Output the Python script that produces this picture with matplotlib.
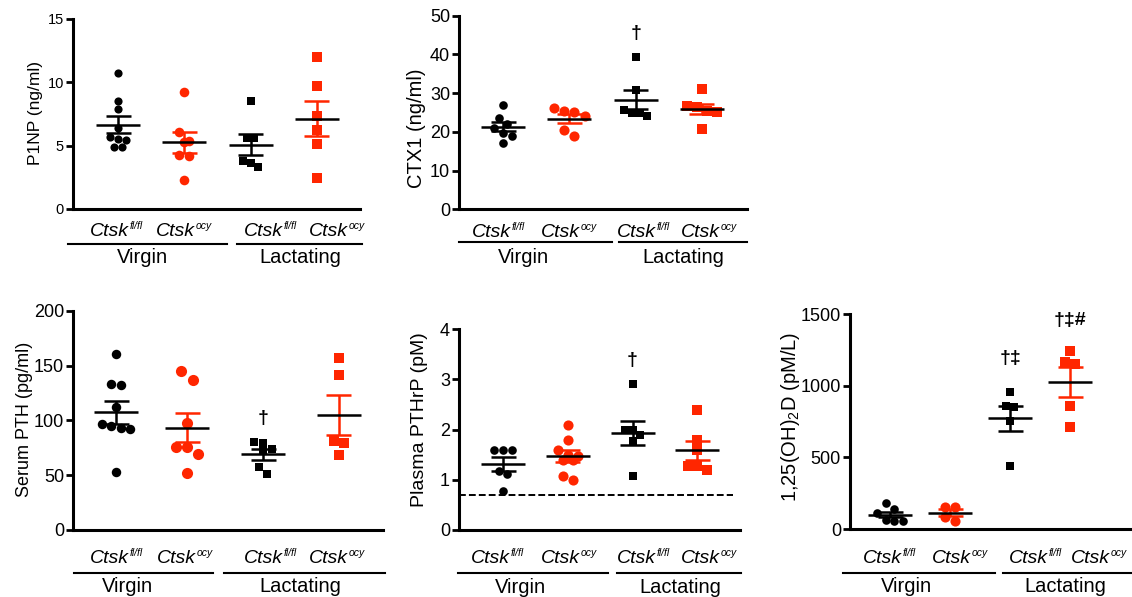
import numpy as np
import matplotlib
matplotlib.use('Agg')
import matplotlib.pyplot as plt
from matplotlib.lines import Line2D

plt.rcParams['font.family'] = ['Liberation Sans', 'DejaVu Sans']
plt.rcParams['mathtext.fontset'] = 'custom'
plt.rcParams['mathtext.rm'] = 'Liberation Sans'
plt.rcParams['mathtext.it'] = 'Liberation Sans:italic'
plt.rcParams['mathtext.bf'] = 'Liberation Sans:bold'

# ---------------- data ----------------
genotype_base = 'Ctsk'
genotype_sup = ['fl/fl', 'ocy', 'fl/fl', 'ocy']
state_labels = ['Virgin', 'Lactating']

p1np_virgin_flfl = [10.7, 8.55, 7.9, 6.4, 5.7, 5.5, 5.45, 4.9, 4.9]
p1np_virgin_ocy = [9.2, 6.1, 5.4, 5.3, 4.25, 4.2, 2.3]
p1np_lact_flfl = [8.55, 5.6, 5.6, 3.8, 3.6, 3.35]
p1np_lact_ocy = [12.0, 9.7, 7.35, 6.2, 5.15, 2.45]

ctx1_virgin_flfl = [27.0, 23.5, 22.0, 21.1, 19.8, 19.0, 17.0]
ctx1_virgin_ocy = [26.2, 25.4, 25.2, 24.1, 20.5, 18.9]
ctx1_lact_flfl = [39.4, 30.8, 25.7, 25.0, 24.8, 24.1]
ctx1_lact_ocy = [31.0, 26.7, 26.3, 25.4, 25.2, 20.7]

pth_virgin_flfl = [160.5, 133, 132, 112, 97, 95, 93, 92, 53]
pth_virgin_ocy = [145, 137, 98, 76, 76, 69, 52]
pth_lact_flfl = [80.5, 79.5, 73.5, 72, 57.5, 51]
pth_lact_ocy = [156.5, 141.5, 81, 79, 68]

pthrp_virgin_flfl = [1.6, 1.6, 1.6, 1.18, 1.12, 0.78]
pthrp_virgin_ocy = [2.1, 1.79, 1.59, 1.49, 1.47, 1.39, 1.39, 1.07, 0.99]
pthrp_lact_flfl = [2.9, 1.99, 1.99, 1.89, 1.78, 1.08]
pthrp_lact_ocy = [2.4, 1.79, 1.59, 1.28, 1.28, 1.2]
pthrp_detection_limit = 0.7

vitd_virgin_flfl = [180, 138, 110, 63, 58, 58]
vitd_virgin_ocy = [156, 152, 84, 58]
vitd_lact_flfl = [955, 860, 855, 755, 442]
vitd_lact_ocy = [1244, 1165, 1153, 862, 711]

# ---------------- style ----------------
W, H = 1132, 597
BLACK = '#000000'
RED = '#FF2600'
colors = [BLACK, RED, BLACK, RED]
markers = ['o', 'o', 's', 's']
msizes = {('o', BLACK): 6.2, ('o', RED): 7.3, ('s', BLACK): 5.6, ('s', RED): 7.0}

fig = plt.figure(figsize=(W / 100, H / 100), dpi=100)
renderer = fig.canvas.get_renderer()


def px_axes(l, r, t, b):
    return fig.add_axes([l / W, 1 - b / H, (r - l) / W, (b - t) / H])


def ftext(xp, yp, s, **kw):
    return fig.text(xp / W, 1 - yp / H, s, **kw)


def fline(x0, x1, yp):
    fig.add_artist(Line2D([x0 / W, x1 / W], [1 - yp / H] * 2,
                          transform=fig.transFigure, color='k', lw=1.5))


def genotype_label(xp, yp, sup):
    t1 = ftext(0, yp, genotype_base, ha='left', va='baseline', fontsize=14, style='italic')
    t2 = ftext(0, yp - 7, sup, ha='left', va='baseline', fontsize=7.5, style='italic')
    w1 = t1.get_window_extent(renderer).width
    w2 = t2.get_window_extent(renderer).width
    x0 = xp - (w1 + w2) / 2
    t1.set_x(x0 / W)
    t2.set_x((x0 + w1 + 0.5) / W)


def swarm_offsets(ax, x0, vals, diam_px):
    vals = np.asarray(vals, float)
    t = ax.transData
    ypx = t.transform(np.column_stack([np.full(len(vals), x0), vals]))[:, 1]
    xppu = t.transform((x0 + 1, 0))[0] - t.transform((x0, 0))[0]
    order = np.argsort(-vals, kind='stable')
    rows, cur = [], [order[0]]
    for idx in order[1:]:
        if abs(ypx[idx] - ypx[cur[0]]) < diam_px * 0.95:
            cur.append(idx)
        else:
            rows.append(cur)
            cur = [idx]
    rows.append(cur)
    off = np.zeros(len(vals))
    for row in rows:
        n = len(row)
        for k, idx in enumerate(row):
            off[idx] = (k - (n - 1) / 2) * diam_px / xppu
    return off, xppu


def panel(box, xlim, positions, ylim, yticks, series, ylabel, ylab_px, tick_fs, ylab_fs,
          label_x, state_x, underlines, text_y, scale=1.0, annotations=()):
    l, r, t, b = box
    ax = px_axes(l, r, t, b)
    ax.set_xlim(*xlim)
    ax.set_ylim(*ylim)
    ax.set_yticks(yticks)
    ax.set_xticks([])
    for s in ['top', 'right']:
        ax.spines[s].set_visible(False)
    for s in ['left', 'bottom']:
        ax.spines[s].set_linewidth(2.2)
    ax.tick_params(axis='y', direction='out', length=5, width=2.0, labelsize=tick_fs, pad=1.5)
    ax.patch.set_alpha(0)
    for i, vals in enumerate(series):
        c, m = colors[i], markers[i]
        ms = msizes[(m, c)] * scale
        diam = ms / 0.72
        off, xppu = swarm_offsets(ax, positions[i], vals, diam)
        x = positions[i]
        ax.plot(x + off, vals, ls='none', marker=m, ms=ms, mfc=c, mec=c, mew=0, zorder=2)
        v = np.asarray(vals, float)
        mean = v.mean()
        se = v.std(ddof=1) / np.sqrt(len(v))
        hw = 22 / xppu
        cw = 12.5 / xppu
        ax.plot([x, x], [mean - se, mean + se], color=c, lw=1.8, zorder=3, solid_capstyle='butt')
        ax.plot([x - cw, x + cw], [mean + se] * 2, color=c, lw=1.8, zorder=3, solid_capstyle='butt')
        ax.plot([x - cw, x + cw], [mean - se] * 2, color=c, lw=1.8, zorder=3, solid_capstyle='butt')
        ax.plot([x - hw, x + hw], [mean] * 2, color='k', lw=1.8, zorder=4, solid_capstyle='butt')
    for gi, txt, yv in annotations:
        ax.text(positions[gi], yv, txt, ha='center', va='center', fontsize=14,
                fontweight='bold', color='k')
    ax.set_ylabel(ylabel, fontsize=ylab_fs, va='center')
    ax.yaxis.set_label_coords((ylab_px[0] - l) / (r - l), (b - ylab_px[1]) / (b - t))
    ctsk_y, line_y, state_y = text_y
    for xp, s in zip(label_x, genotype_sup):
        genotype_label(xp, ctsk_y, s)
    for (x0, x1) in underlines:
        fline(x0, x1, line_y)
    for xp, s in zip(state_x, state_labels):
        ftext(xp, state_y, s, ha='center', va='baseline', fontsize=14.5)
    return ax


# P1NP
panel((73, 360, 19, 209), (0.321, 4.65), [1, 2, 3, 4], (0, 15), [0, 5, 10, 15],
      [p1np_virgin_flfl, p1np_virgin_ocy, p1np_lact_flfl, p1np_lact_ocy],
      'P1NP (ng/ml)', (36, 113), 10.5, 12.5,
      [116, 184, 270, 337], [142, 300], [(68, 227), (237, 362)], (236, 244, 263), scale=0.95)

# CTX1
panel((459, 747, 15.7, 209.3), (0.336, 4.68), [1, 2, 3, 4], (0, 50), [0, 10, 20, 30, 40, 50],
      [ctx1_virgin_flfl, ctx1_virgin_ocy, ctx1_lact_flfl, ctx1_lact_ocy],
      'CTX1 (ng/ml)', (417, 128), 13, 14.5,
      [498, 569, 643, 709], [523, 683], [(459, 612), (619, 747)], (237, 242, 263),
      annotations=[(2, '\u2020', 45.5)])

# Serum PTH
panel((73, 383, 310.7, 530), (0.394, 4.76), [1, 2, 3.07, 4.14], (0, 200), [0, 50, 100, 150, 200],
      [pth_virgin_flfl, pth_virgin_ocy, pth_lact_flfl, pth_lact_ocy],
      'Serum PTH (pg/ml)', (25, 419), 13, 13,
      [116, 185, 270, 337], [127, 300], [(74, 213), (224, 385)], (563, 572.7, 592),
      scale=1.1, annotations=[(2, '\u2020', 102)])

# Plasma PTHrP
ax4 = panel((459, 740, 329.3, 530), (0.32, 4.66), [1, 2, 3, 4], (0, 4), [0, 1, 2, 3, 4],
            [pthrp_virgin_flfl, pthrp_virgin_ocy, pthrp_lact_flfl, pthrp_lact_ocy],
            'Plasma PTHrP (pM)', (419, 420), 13, 14,
            [497, 569, 643, 709], [520, 680], [(458, 608), (617, 741)], (563, 572.7, 593),
            annotations=[(2, '\u2020', 3.37)])
ax4.axhline(pthrp_detection_limit, xmin=0, xmax=(733 - 459) / (740 - 459), color='k',
            lw=1.4, ls=(0, (3.5, 1.6)), zorder=1)

# 1,25(OH)2D
panel((850, 1132, 314.3, 529), (0.333, 5.03), [1, 2, 3, 4], (0, 1500), [0, 500, 1000, 1500],
      [vitd_virgin_flfl, vitd_virgin_ocy, vitd_lact_flfl, vitd_lact_ocy],
      r'1,25(OH)$_2$D (pM/L)', (791, 417), 13, 14.5,
      [889, 960, 1035, 1099], [906, 1065], [(843, 995), (1003, 1132)], (563, 572.7, 592),
      annotations=[(2, '\u2020\u2021', 1190), (3, '\u2020\u2021#', 1455)])

fig.savefig('out.png', dpi=100)
